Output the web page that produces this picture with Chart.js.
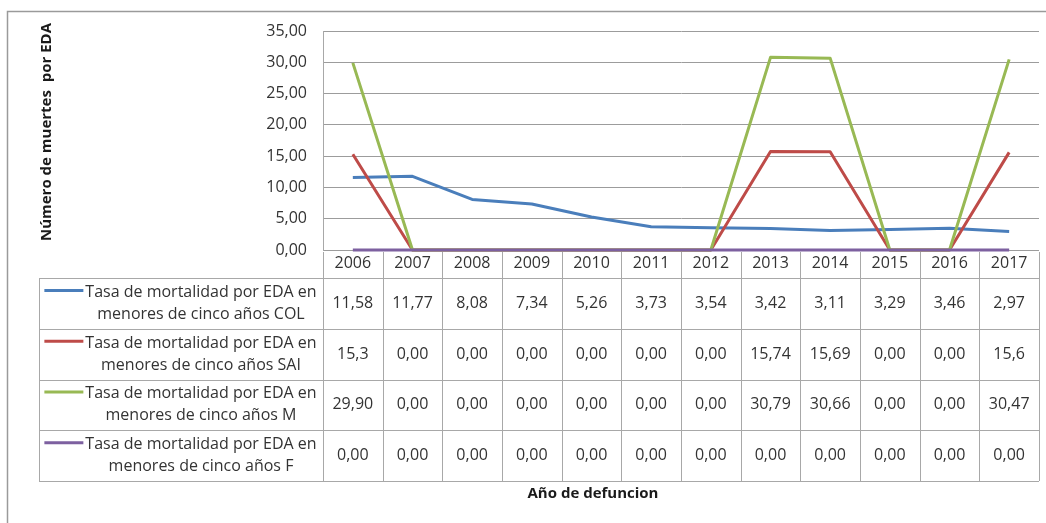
<!DOCTYPE html>
<html>
<head>
<meta charset="utf-8">
<script src="https://cdn.jsdelivr.net/npm/chart.js@4"></script>
<style>
  html, body { margin: 0; padding: 0; background: #fff; }
  #wrap { width: 1046px; height: 523px; }
</style>
</head>
<body>
<div id="wrap"><canvas id="c" width="1046" height="523"></canvas></div>
<script>
// ---- data ----
const years = ['2006','2007','2008','2009','2010','2011','2012','2013','2014','2015','2016','2017'];
const tasaCOL = [11.58, 11.77, 8.08, 7.34, 5.26, 3.73, 3.54, 3.42, 3.11, 3.29, 3.46, 2.97];
const tasaSAI = [15.3, 0, 0, 0, 0, 0, 0, 15.74, 15.69, 0, 0, 15.6];
const tasaM   = [29.90, 0, 0, 0, 0, 0, 0, 30.79, 30.66, 0, 0, 30.47];
const tasaF   = [0, 0, 0, 0, 0, 0, 0, 0, 0, 0, 0, 0];
const labelCOL = ['Tasa de mortalidad por EDA en', 'menores de cinco años COL'];
const labelSAI = ['Tasa de mortalidad por EDA en', 'menores de cinco años SAI'];
const labelM   = ['Tasa de mortalidad por EDA en', 'menores de cinco años M'];
const labelF   = ['Tasa de mortalidad por EDA en', 'menores de cinco años F'];
const yTicksMax = 35, yTicksStep = 5;
const yTitle = 'Número de muertes  por EDA';
const xTitle = 'Año de defuncion';

// ---- formatting ----
const fmt2 = v => v.toFixed(2).replace('.', ',');
const fmtRaw = v => v === 0 ? '0,00' : String(v).replace('.', ',');

const FONT = '"Open Sans", "DejaVu Sans", sans-serif';
const TXT = '#333333';
const GRID = '#9c9c9c';
const TBL = '#a8a8a8';

const series = [
  { lines: labelCOL, data: tasaCOL, color: '#4A7EBB', fmt: fmt2, order: 4 },
  { lines: labelSAI, data: tasaSAI, color: '#BE4B48', fmt: fmtRaw, order: 3 },
  { lines: labelM,   data: tasaM,   color: '#98B954', fmt: fmt2, order: 2 },
  { lines: labelF,   data: tasaF,   color: '#7D60A0', fmt: fmt2, order: 1 }
];

const TABLE_LEFT = 39, ROW_H = 50.75, HEADER_BOTTOM = 278;

const tablePlugin = {
  id: 'tablePlugin',
  afterDraw(chart) {
    const ctx = chart.ctx;
    const ca = chart.chartArea;
    const x = chart.scales.x;
    const n = years.length;
    const colW = (ca.right - ca.left) / n;
    const bottom = HEADER_BOTTOM + ROW_H * series.length;
    ctx.save();

    // outer frame
    ctx.strokeStyle = '#9a9a9a';
    ctx.lineWidth = 1.5;
    ctx.beginPath();
    ctx.moveTo(7.5, 523); ctx.lineTo(7.5, 11.5); ctx.lineTo(1046, 11.5);
    ctx.stroke();

    // table lines
    ctx.strokeStyle = TBL;
    ctx.lineWidth = 1;
    ctx.beginPath();
    for (let r = 0; r <= series.length; r++) {
      const y = Math.round(HEADER_BOTTOM + r * ROW_H) + 0.5;
      ctx.moveTo(TABLE_LEFT, y); ctx.lineTo(ca.right, y);
    }
    ctx.moveTo(TABLE_LEFT + 0.5, HEADER_BOTTOM); ctx.lineTo(TABLE_LEFT + 0.5, bottom);
    for (let i = 0; i <= n; i++) {
      const xb = Math.round(x.getPixelForValue(i) - colW / 2) + 0.5;
      ctx.moveTo(xb, ca.bottom + 2); ctx.lineTo(xb, bottom);
    }
    ctx.stroke();

    // legend keys + text + values
    ctx.font = '16px ' + FONT;
    ctx.fillStyle = TXT;
    ctx.textBaseline = 'middle';
    const cx = 201;
    series.forEach((s, r) => {
      const yc = HEADER_BOTTOM + r * ROW_H + ROW_H / 2;
      const w1 = ctx.measureText(s.lines[0]).width;
      ctx.textAlign = 'center';
      ctx.fillText(s.lines[0], cx, yc - 11);
      ctx.fillText(s.lines[1], cx, yc + 11);
      const kx2 = cx - w1 / 2 - 2;
      ctx.strokeStyle = s.color;
      ctx.lineWidth = 3;
      ctx.beginPath();
      ctx.moveTo(kx2 - 39, yc - 13); ctx.lineTo(kx2, yc - 13);
      ctx.stroke();
      s.data.forEach((v, i) => {
        ctx.fillText(s.fmt(v), x.getPixelForValue(i), yc);
      });
    });

    // y title
    ctx.font = 'bold 15px ' + FONT;
    ctx.fillStyle = '#1a1a1a';
    ctx.save();
    ctx.translate(47, 132);
    ctx.rotate(-Math.PI / 2);
    ctx.textAlign = 'center';
    ctx.fillText(yTitle, 0, 0);
    ctx.restore();

    // x title
    ctx.textAlign = 'center';
    ctx.fillText(xTitle, 593, 494);

    ctx.restore();
  }
};

new Chart(document.getElementById('c'), {
  type: 'line',
  data: {
    labels: years,
    datasets: series.map(s => ({
      label: s.lines.join(' '),
      data: s.data,
      borderColor: s.color,
      backgroundColor: s.color,
      borderWidth: 3,
      borderJoinStyle: 'round',
      pointRadius: 0,
      tension: 0,
      clip: 4,
      order: s.order
    }))
  },
  options: {
    responsive: false,
    animation: false,
    events: [],
    layout: { padding: { left: 263, right: 7, top: 31, bottom: 245 } },
    plugins: { legend: { display: false }, tooltip: { enabled: false } },
    scales: {
      x: {
        offset: true,
        grid: { display: false, drawTicks: false },
        border: { display: false },
        ticks: { color: TXT, font: { family: FONT, size: 16 }, padding: 4, maxRotation: 0, autoSkip: false },
        afterFit: s => { s.height = 28; }
      },
      y: {
        min: 0, max: yTicksMax,
        grid: { color: GRID, drawTicks: false },
        border: { display: true, color: TBL },
        ticks: { stepSize: yTicksStep, color: TXT, font: { family: FONT, size: 16 }, padding: 16,
                 callback: v => fmt2(v) },
        afterFit: s => { s.width = 60; }
      }
    }
  },
  plugins: [tablePlugin]
});
</script>
</body>
</html>
